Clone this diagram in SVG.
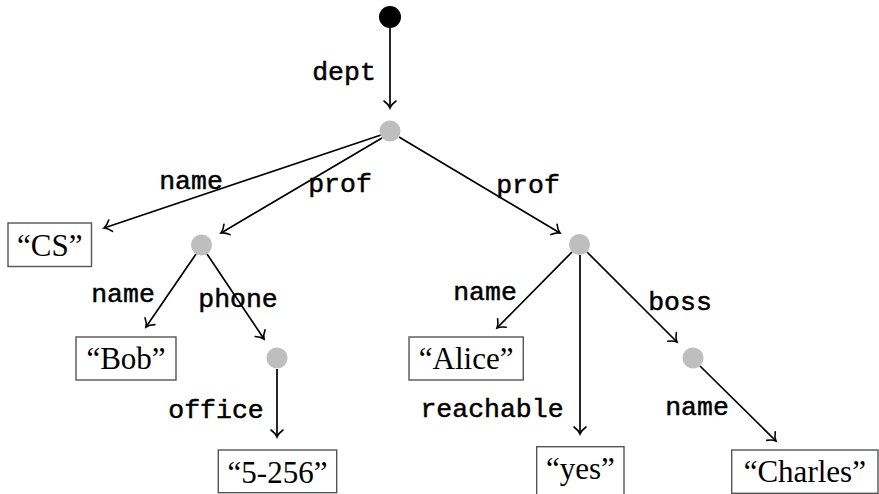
<svg xmlns="http://www.w3.org/2000/svg" width="879" height="494" viewBox="0 0 879 494">
<defs>
<marker id="arr" markerUnits="userSpaceOnUse" markerWidth="20" markerHeight="20" viewBox="-10 -10 20 20" refX="0" refY="0" orient="auto">
<path d="M-7,-6 C-4.5,-2.5 -1.5,-0.6 0,0 C-1.5,0.6 -4.5,2.5 -7,6" fill="none" stroke="#000" stroke-width="1.6" stroke-linecap="round"/>
</marker>
</defs>
<style>
.e{stroke:#000;stroke-width:1.7;fill:none;marker-end:url(#arr)}
.n{fill:#bebebe}
.b{fill:#fff;stroke:#555;stroke-width:1.4}
.l{font-family:"Liberation Mono","DejaVu Sans Mono",monospace;font-size:26.5px;fill:#000;stroke:#000;stroke-width:0.5;text-anchor:middle}
.s{font-family:"Liberation Serif","DejaVu Serif",serif;font-size:31px;fill:#000;text-anchor:middle}
</style>
<rect width="879" height="494" fill="#fff"/>
<g id="connectors">
<line class="e" x1="390" y1="28" x2="390" y2="108"/>
<line class="e" x1="381" y1="135" x2="104" y2="228"/>
<line class="e" x1="382" y1="138" x2="221" y2="233"/>
<line class="e" x1="399" y1="137" x2="560" y2="233"/>
<line class="e" x1="196" y1="254" x2="146" y2="327"/>
<line class="e" x1="207" y1="254" x2="264" y2="339"/>
<line class="e" x1="277" y1="369" x2="277" y2="437"/>
<line class="e" x1="572" y1="252" x2="497" y2="328"/>
<line class="e" x1="580" y1="255" x2="580" y2="434"/>
<line class="e" x1="587" y1="252" x2="677" y2="342"/>
<line class="e" x1="700" y1="366" x2="776" y2="441"/>
<text class="l" x="344" y="80">dept</text>
<text class="l" x="191" y="189">name</text>
<text class="l" x="340" y="192">prof</text>
<text class="l" x="528" y="193">prof</text>
<text class="l" x="123" y="302">name</text>
<text class="l" x="238" y="307">phone</text>
<text class="l" x="216" y="418">office</text>
<text class="l" x="485" y="300">name</text>
<text class="l" x="680" y="310">boss</text>
<text class="l" x="492" y="417">reachable</text>
<text class="l" x="697" y="415">name</text>
</g>
<g id="root"><circle cx="390" cy="17" r="11" fill="#000"/></g>
<g id="dept"><circle class="n" cx="390" cy="131" r="10.5"/></g>
<g id="prof1"><circle class="n" cx="201.5" cy="245" r="10.5"/></g>
<g id="prof2"><circle class="n" cx="579.5" cy="244.5" r="10.5"/></g>
<g id="phone"><circle class="n" cx="277" cy="358" r="10.5"/></g>
<g id="boss"><circle class="n" cx="693" cy="358" r="10.5"/></g>
<g id="cs"><rect class="b" x="8" y="223" width="83.5" height="43.5"/><text class="s" x="49.7" y="256">“CS”</text></g>
<g id="bob"><rect class="b" x="76" y="337" width="100" height="43"/><text class="s" x="126" y="368.5">“Bob”</text></g>
<g id="p5256"><rect class="b" x="218.3" y="450" width="118.4" height="42.7"/><text class="s" x="277.5" y="483">“5-256”</text></g>
<g id="alice"><rect class="b" x="409" y="337" width="114.3" height="43"/><text class="s" x="466.2" y="368.5">“Alice”</text></g>
<g id="yes"><rect class="b" x="536.7" y="446.7" width="87.3" height="50"/><text class="s" x="580.3" y="478.5">“yes”</text></g>
<g id="charles"><rect class="b" x="731.7" y="450" width="146.3" height="43.3"/><text class="s" x="804.8" y="482">“Charles”</text></g>
</svg>
